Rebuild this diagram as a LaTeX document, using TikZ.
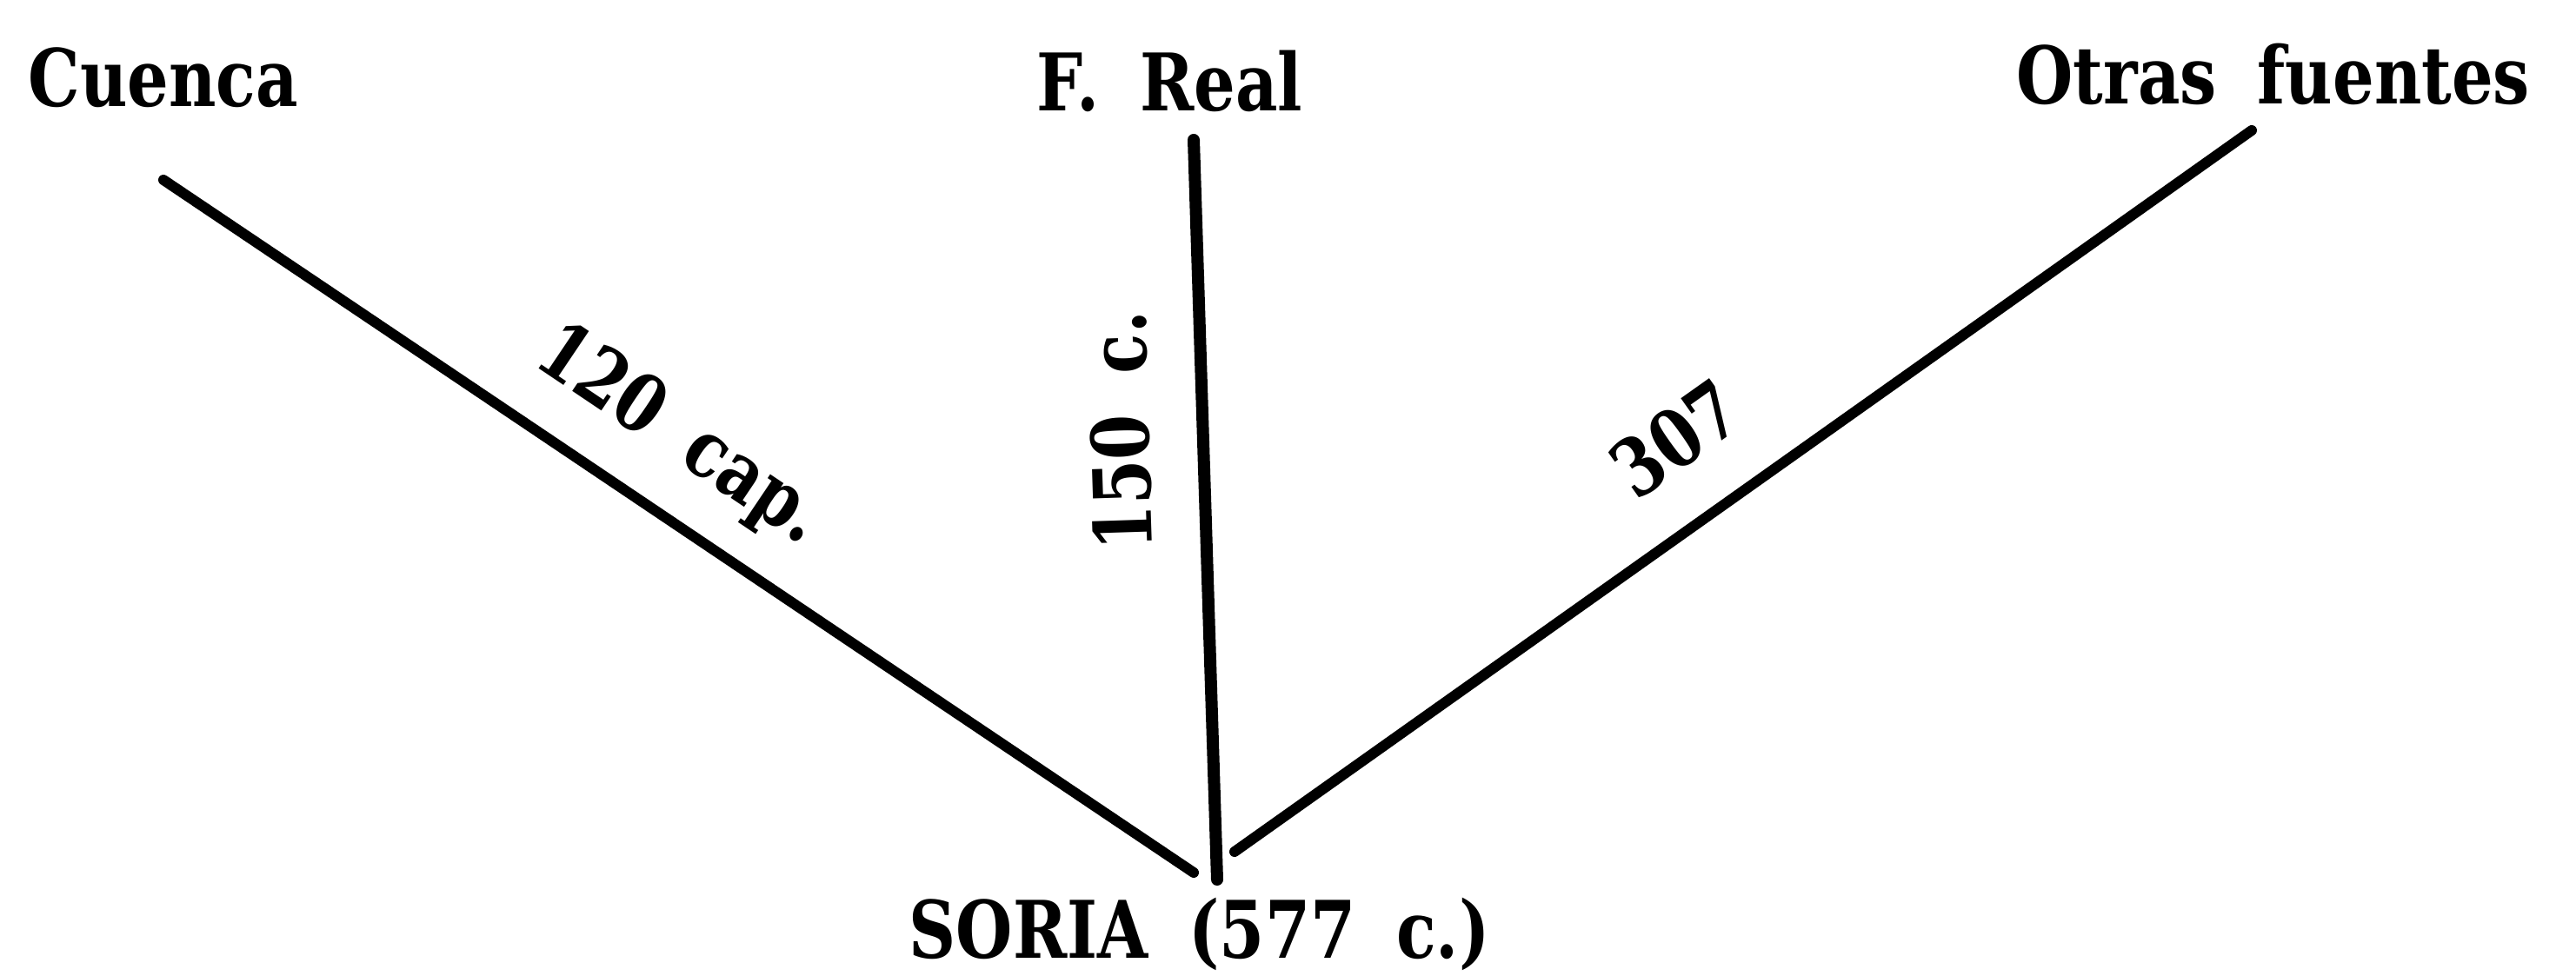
\documentclass[tikz,border=0pt]{standalone}
\usepackage{fontspec}
\setmainfont{DejaVu Serif}[FakeStretch=0.82,WordSpace=1.8]
\begin{document}
\begin{tikzpicture}[every node/.style={font=\fontsize{26}{30}\selectfont\bfseries,inner sep=0pt},
  ruta/.style={line width=1.2mm,line cap=round},
  cifra/.style={sloped,above=5.5mm,text height=6.8mm,text depth=0pt}]
  \useasboundingbox (0,0) rectangle (29.63,11.22);
  % ends of the three lines
  \coordinate (cuencaTop) at (1.88,9.15);
  \coordinate (cuencaBot) at (13.73,1.18);
  \coordinate (realTop) at (13.73,9.61);
  \coordinate (realBot) at (14.00,1.10);
  \coordinate (otrasTop) at (25.90,9.72);
  \coordinate (otrasBot) at (14.20,1.42);
  % names
  \node[anchor=base west] (cuenca) at (0.32,9.99) {Cuenca};
  \node[anchor=base west] (real) at (11.92,9.94) {F. Real};
  \node[anchor=base west] (otras) at (23.19,10.02) {Otras fuentes};
  \node[anchor=base west] (soria) at (10.45,0.2) {SORIA (577 c.)};
  % lines with their figures
  \draw[ruta] (cuencaTop) -- (cuencaBot) node[cifra,pos=0.46] (capCuenca) {120 cap.};
  \draw[ruta,line width=1.4mm] (realBot) -- (realTop) node[cifra,allow upside down,pos=0.61] (capReal) {150 c.};
  \draw[ruta] (otrasBot) -- (otrasTop) node[cifra,pos=0.48] (capOtras) {307};
\end{tikzpicture}
\end{document}
